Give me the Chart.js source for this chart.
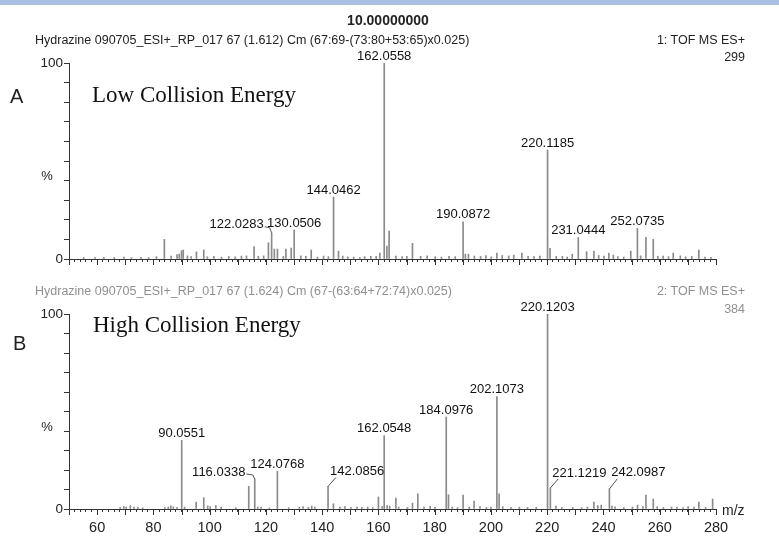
<!DOCTYPE html>
<html>
<head>
<meta charset="utf-8">
<script src="https://cdn.jsdelivr.net/npm/chart.js@4.4.1/dist/chart.umd.min.js"></script>
<style>
  body { margin: 0; background: #fff; font-family: "Liberation Sans", Arial, sans-serif; }
  #page { position: relative; width: 779px; height: 544px; overflow: hidden; }
  #band { position: absolute; left: 0; top: 0; width: 779px; height: 5px; background: #a8c0e4; }
  .t { position: absolute; white-space: nowrap; line-height: 1; }
  canvas { position: absolute; left: 0; }
</style>
</head>
<body>
<div id="page">
  <div id="band"></div>
  <canvas id="chartA" width="779" height="272" style="top:0"></canvas>
  <canvas id="chartB" width="779" height="272" style="top:272px"></canvas>

  <div class="t" style="left:388px;top:13px;transform:translateX(-50%);font-size:14px;font-weight:bold;color:#222">10.00000000</div>
  <div class="t" style="left:35px;top:34px;font-size:12.5px;color:#222">Hydrazine 090705_ESI+_RP_017 67 (1.612) Cm (67:69-(73:80+53:65)x0.025)</div>
  <div class="t" style="right:34px;top:34px;font-size:12.5px;color:#222">1: TOF MS ES+</div>
  <div class="t" style="right:34px;top:51px;font-size:12.5px;color:#222">299</div>
  <div class="t" style="left:10px;top:86px;font-size:20px;color:#222">A</div>
  <div class="t" style="left:92px;top:83px;font-size:23px;color:#111;font-family:'Liberation Serif','Times New Roman',serif">Low Collision Energy</div>

  <div class="t" style="left:35px;top:285px;font-size:12.5px;color:#909090">Hydrazine 090705_ESI+_RP_017 67 (1.624) Cm (67-(63:64+72:74)x0.025)</div>
  <div class="t" style="right:34px;top:285px;font-size:12.5px;color:#909090">2: TOF MS ES+</div>
  <div class="t" style="right:34px;top:303px;font-size:12.5px;color:#909090">384</div>
  <div class="t" style="left:13px;top:333px;font-size:20px;color:#222">B</div>
  <div class="t" style="left:93px;top:313px;font-size:23px;color:#111;font-family:'Liberation Serif','Times New Roman',serif">High Collision Energy</div>
</div>

<script>
// panel A: low collision energy (m/z, relative intensity %)
const mzA = [
  55.2, 59.3, 62.4, 66.1, 69.5, 72.2, 75.6, 78.3, 81.1, 83.9,
  86.3, 88.4, 89.2, 90.0, 90.6, 92.1, 93.4, 95.3, 97.9, 99.2,
  101.5, 104.2, 106.8, 109.1, 111.3, 113.1, 115.8, 117.3, 119.2, 120.9,
  122.03, 123.0, 124.1, 126.2, 127.1, 129.0, 130.05, 132.4, 134.2, 136.1,
  138.3, 140.5, 142.2, 144.05, 145.8, 147.3, 149.1, 151.2, 153.4, 155.1,
  157.3, 159.2, 160.5, 162.06, 163.0, 163.8, 166.2, 168.4, 170.1, 172.1,
  175.0, 177.3, 180.2, 182.4, 185.1, 187.3, 190.09, 190.9, 192.0, 194.1,
  196.3, 198.2, 200.1, 202.1, 204.0, 206.3, 208.1, 211.0, 213.2, 215.3,
  217.4, 220.12, 221.0, 223.2, 225.4, 227.1, 228.9, 231.04, 234.0, 236.6,
  238.3, 240.2, 241.9, 243.5, 245.1, 247.2, 249.7, 252.07, 253.2, 255.1,
  257.7, 259.3, 261.2, 263.1, 264.8, 267.3, 269.2, 271.4, 273.9, 276.1,
  278.2
];
const pctA = [
  0.8, 0.7, 0.9, 0.8, 1.0, 0.7, 0.9, 0.8, 1.2, 10,
  1.5, 2.2, 2.5, 4.2, 4.6, 1.6, 1.2, 3.6, 4.6, 1.1,
  1.4, 1.0, 1.3, 1.1, 1.5, 1.6, 6.3, 1.4, 1.6, 8.3,
  13.4, 5.1, 5.1, 1.3, 5.1, 5.6, 14.8, 1.6, 1.3, 4.6,
  1.0, 1.5, 1.2, 31.6, 4.0, 1.5, 1.1, 1.0, 0.9, 1.2,
  1.3, 1.4, 3.0, 100, 6.6, 14.3, 1.5, 1.2, 1.3, 8.0,
  1.4, 1.6, 1.2, 1.0, 1.4, 1.2, 19.0, 2.5, 2.5, 1.5,
  1.3, 1.7, 1.1, 3.0, 1.8, 1.6, 2.0, 3.0, 1.4, 1.2,
  1.5, 55.6, 5.4, 1.3, 1.4, 1.0, 2.5, 11.0, 3.7, 4.0,
  1.8, 1.5, 3.0, 2.0, 1.2, 1.0, 4.0, 15.6, 1.6, 11.0,
  10.0, 1.4, 1.5, 1.2, 3.0, 1.6, 1.1, 1.3, 4.6, 1.0,
  0.8
];
const labelsA = ['122.0283', '130.0506', '144.0462', '162.0558', '190.0872', '220.1185', '231.0444', '252.0735'];

// panel B: high collision energy
const mzB = [
  68.2, 69.5, 70.3, 71.8, 73.1, 74.5, 76.2, 84.1, 85.3, 86.2,
  87.1, 88.4, 90.06, 91.1, 95.2, 97.9, 99.3, 100.2, 102.2, 104.1,
  109.3, 113.9, 116.03, 117.1, 118.3, 121.2, 124.08, 128.1, 131.9, 133.2,
  135.1, 136.3, 137.4, 142.09, 144.0, 146.3, 148.1, 150.2, 152.4, 154.1,
  156.2, 158.0, 160.0, 161.3, 162.05, 163.1, 164.0, 166.2, 167.2, 170.3,
  172.1, 174.0, 176.2, 178.4, 180.1, 184.1, 184.9, 186.2, 188.1, 190.1,
  192.3, 194.0, 196.1, 198.4, 200.0, 202.11, 202.9, 204.2, 207.1, 210.1,
  213.0, 216.1, 220.12, 221.12, 223.1, 225.2, 229.1, 232.2, 234.3, 236.6,
  238.0, 239.2, 242.1, 243.0, 244.1, 247.2, 250.3, 252.1, 254.0, 255.1,
  257.7, 259.1, 261.3, 264.2, 266.1, 268.3, 270.1, 272.2, 273.9, 276.3,
  278.8
];
const pctB = [
  0.8, 1.2, 1.0, 1.7, 1.0, 0.8, 0.6, 0.7, 1.0, 1.6,
  1.1, 0.8, 35.2, 1.0, 3.6, 5.8, 1.6, 1.2, 1.8, 0.9,
  0.7, 11.6, 15.4, 1.0, 0.8, 0.6, 19.3, 0.7, 1.0, 1.3,
  0.9, 1.5, 1.0, 11.6, 2.7, 1.0, 1.2, 0.8, 1.0, 0.8,
  1.0, 0.7, 6.2, 1.2, 37.6, 1.8, 1.5, 5.6, 1.0, 0.8,
  3.0, 7.8, 1.0, 1.3, 0.8, 47.2, 7.3, 1.0, 0.7, 7.2,
  1.0, 4.1, 1.3, 0.8, 1.0, 57.7, 7.8, 1.2, 0.9, 1.0,
  0.8, 0.9, 100, 10.8, 1.5, 0.8, 0.9, 0.7, 1.0, 3.6,
  1.8, 2.0, 10.3, 1.5, 1.1, 0.8, 1.0, 2.0, 1.2, 7.2,
  5.1, 1.2, 0.8, 1.0, 0.9, 0.7, 1.3, 1.0, 3.6, 0.9,
  5.1
];
const labelsB = ['90.0551', '116.0338', '124.0768', '142.0856', '162.0548', '184.0976', '202.1073', '220.1203', '221.1219', '242.0987'];

// label placement (px offset of text centre from peak top), default is straight above
const labelOffsets = {
  '122.0283': [-35, -8],
  '116.0338': [-36, -7],
  '142.0856': [29, -15],
  '221.1219': [29, -15],
  '242.0987': [29, -16]
};

const axisColor = '#333';
const barColor = '#8a8a8a';
const fontFamily = '"Liberation Sans", Arial, sans-serif';
Chart.defaults.font.family = fontFamily;

function peakPlugin(mz, pct, labels, isB) {
  return {
    id: 'peaks',
    afterDraw(chart) {
      const ctx = chart.ctx;
      const a = chart.chartArea;
      const x = chart.scales.x, y = chart.scales.y;
      ctx.save();

      // longer ticks every 10
      ctx.strokeStyle = axisColor;
      ctx.lineWidth = 1;
      for (let v = 50; v <= 280; v += 10) {
        const px = Math.round(x.getPixelForValue(v)) + 0.5;
        ctx.beginPath();
        ctx.moveTo(px, a.bottom);
        ctx.lineTo(px, a.bottom + 6);
        ctx.stroke();
      }

      // peak labels
      ctx.font = '13px ' + fontFamily;
      ctx.textBaseline = 'middle';
      ctx.textAlign = 'center';
      labels.forEach(lab => {
        const target = parseFloat(lab);
        let k = 0;
        mz.forEach((m, i) => { if (Math.abs(m - target) < Math.abs(mz[k] - target)) k = i; });
        const px = x.getPixelForValue(mz[k]);
        const top = y.getPixelForValue(pct[k]);
        const off = labelOffsets[lab] || [0, -7];
        const cx = px + off[0], cy = top + off[1];
        ctx.fillStyle = '#111';
        ctx.fillText(lab, cx, cy);
        if (off[0] !== 0) {
          const w = ctx.measureText(lab).width;
          ctx.strokeStyle = '#555';
          ctx.beginPath();
          if (off[0] < 0) {
            ctx.moveTo(cx + w / 2 + 1, cy + 2);
            ctx.lineTo(px - 2, cy + 3);
            ctx.lineTo(px, top);
          } else {
            ctx.moveTo(px, top);
            ctx.lineTo(cx - w / 2 + 6, cy + 6);
          }
          ctx.stroke();
        }
      });

      // axis captions
      ctx.fillStyle = '#222';
      ctx.font = '13px ' + fontFamily;
      ctx.fillText('%', a.left - 22, y.getPixelForValue(42));
      if (isB) {
        ctx.font = '14px ' + fontFamily;
        ctx.textAlign = 'left';
        ctx.fillText('m/z', a.right + 6, a.bottom + 2);
      }
      ctx.restore();
    }
  };
}

function makePanel(id, mz, pct, labels, isB) {
  return new Chart(document.getElementById(id), {
    type: 'bar',
    data: {
      datasets: [{
        data: mz.map((m, i) => ({ x: m, y: pct[i] })),
        backgroundColor: barColor,
        borderWidth: 0,
        barThickness: 1
      }]
    },
    options: {
      responsive: false,
      animation: false,
      devicePixelRatio: 1,
      layout: { padding: { left: 0, right: 63, top: isB ? 42 : 63, bottom: 0 } },
      plugins: { legend: { display: false }, tooltip: { enabled: false } },
      scales: {
        x: {
          type: 'linear', min: 50, max: 280, offset: false,
          grid: { display: true, drawOnChartArea: false, drawTicks: true, tickLength: 3, color: axisColor, offset: false },
          border: { display: true, color: axisColor, width: 1 },
          ticks: {
            stepSize: 2, autoSkip: false, maxRotation: 0, padding: 7,
            color: '#222', font: { size: 14.5 },
            callback: v => (isB && v % 20 === 0) ? v : ''
          },
          afterFit: s => { s.height = isB ? 35 : 13; }
        },
        y: {
          min: 0, max: 100,
          grid: { display: true, drawOnChartArea: false, drawTicks: true, tickLength: 5, color: axisColor },
          border: { display: true, color: axisColor, width: 1 },
          ticks: {
            stepSize: 10, padding: 1, color: '#222', font: { size: 13.5 },
            callback: v => (v === 0 || v === 100) ? v : ''
          },
          afterFit: s => { s.width = 69; }
        }
      }
    },
    plugins: [peakPlugin(mz, pct, labels, isB)]
  });
}

makePanel('chartA', mzA, pctA, labelsA, false);
makePanel('chartB', mzB, pctB, labelsB, true);
</script>
</body>
</html>
